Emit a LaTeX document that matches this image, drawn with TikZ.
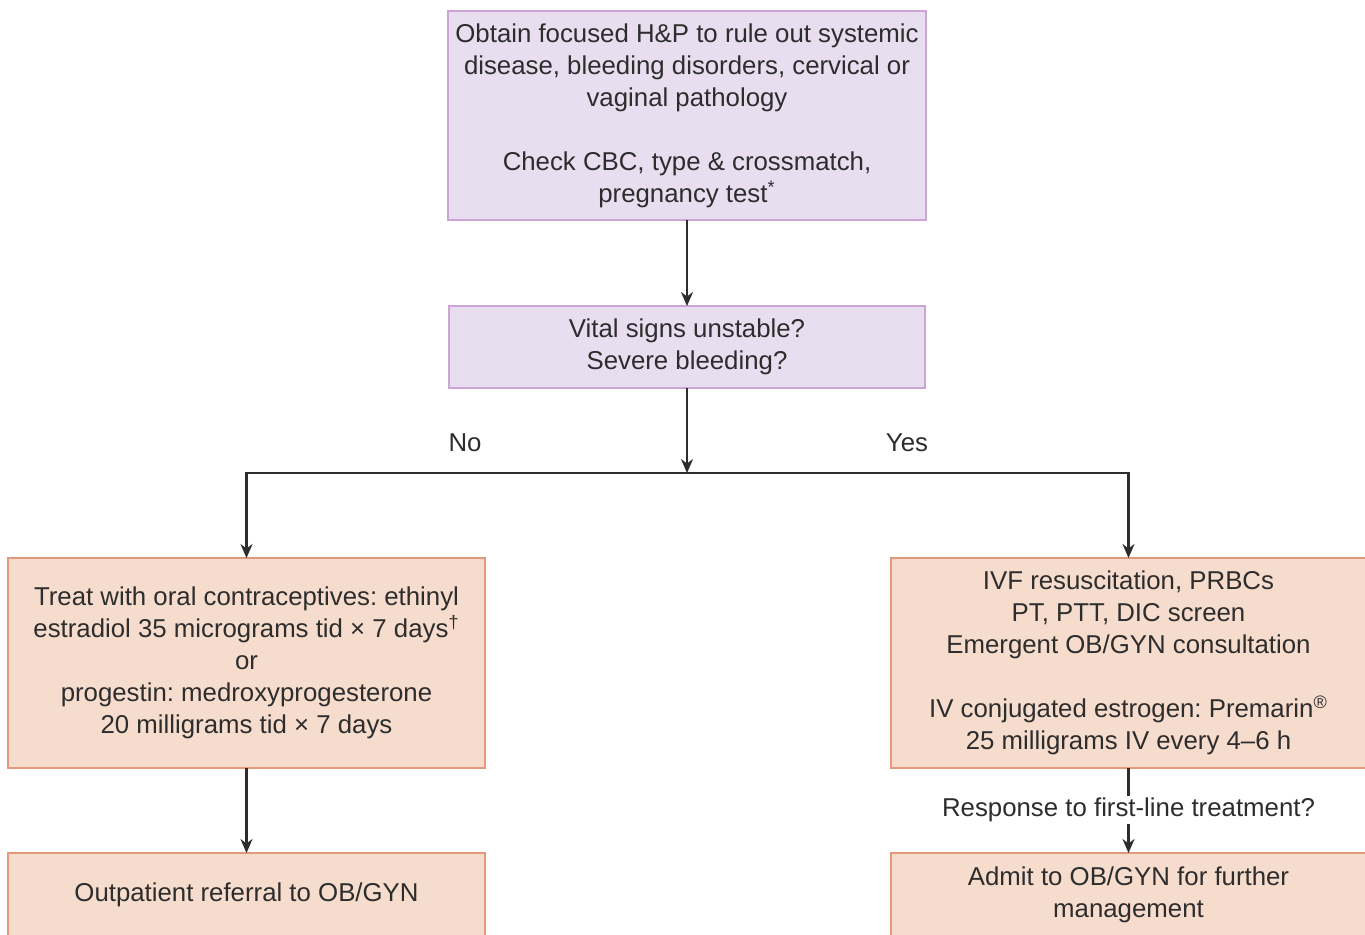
\documentclass[tikz,border=0pt]{standalone}
\usepackage{fontspec}
\setmainfont{Liberation Sans}
\frenchspacing
\usetikzlibrary{arrows.meta,positioning,calc}
\definecolor{lilacfill}{RGB}{233,222,239}
\definecolor{lilacline}{RGB}{204,164,214}
\definecolor{peachfill}{RGB}{246,220,205}
\definecolor{peachline}{RGB}{226,152,122}
\definecolor{inktext}{RGB}{45,45,45}
\tikzset{
  box/.style={rectangle,draw,line width=0.6pt,align=center,inner sep=0,outer sep=0,
    text=inktext,font=\fontsize{12.9}{16}\selectfont},
  check box/.style={box,fill=lilacfill,draw=lilacline},
  treat box/.style={box,fill=peachfill,draw=peachline},
  connect/.style={-{Stealth[length=7pt,width=6pt]},line width=1.1pt,draw=inktext},
  plain/.style={line width=1.1pt,draw=inktext},
  label/.style={text=inktext,font=\fontsize{12.9}{16}\selectfont,inner sep=1pt}
}
\begin{document}
\begin{tikzpicture}[x=0.5pt,y=-0.5pt]
    \clip (0,0) rectangle (1365,934);
    \fill[white] (0,0) rectangle (1365,934);
    % Nodes: checks, decision, two treatments, two outcomes
    \node[check box,minimum width=239pt,minimum height=104.5pt] (hp) at (687,115.5)
      {Obtain focused H\&P to rule out systemic\\disease, bleeding disorders, cervical or\\vaginal pathology\\[16pt]
       Check CBC, type \& crossmatch,\\pregnancy test\textsuperscript{*}};
    \node[check box,minimum width=238pt,minimum height=41pt] (vital) at (687,347)
      {Vital signs unstable?\\Severe bleeding?};
    \node[treat box,minimum width=238.5pt,minimum height=105pt] (oral) at (246.5,663)
      {Treat with oral contraceptives: ethinyl\\estradiol 35 micrograms tid \texttimes\ 7 days\textsuperscript{†}\\or\\
       progestin: medroxyprogesterone\\20 milligrams tid \texttimes\ 7 days};
    \node[treat box,minimum width=237.5pt,minimum height=105pt] (ivf) at (1128.5,663)
      {IVF resuscitation, PRBCs\\PT, PTT, DIC screen\\Emergent OB/GYN consultation\\[16pt]
       IV conjugated estrogen: Premarin\textsuperscript{®}\\25 milligrams IV every 4–6 h};
    \node[treat box,minimum width=238.5pt,minimum height=42pt] (outpt) at (246.5,895)
      {Outpatient referral to OB/GYN};
    \node[treat box,minimum width=237.5pt,minimum height=42pt] (admit) at (1128.5,895)
      {Admit to OB/GYN for further\\management};
    \coordinate (split) at (687,473);
    % Connections
    \draw[connect] (hp) -- (vital);
    \draw[connect] (vital) -- (split);
    \draw[plain] (246.5,473) -- (1128.5,473);
    \draw[connect] (split) -| (oral.north);
    \draw[connect] (split) -| (ivf.north);
    \draw[connect] (oral) -- (outpt);
    \node[label] (resp) at (1128.5,810) {Response to first-line treatment?};
    \draw[plain] (ivf) -- (resp);
    \draw[connect] (resp) -- (admit);
    % Labels
    \node[label] (no) at (465,443) {No};
    \node[label] (yes) at (907,443) {Yes};
\end{tikzpicture}
\end{document}
